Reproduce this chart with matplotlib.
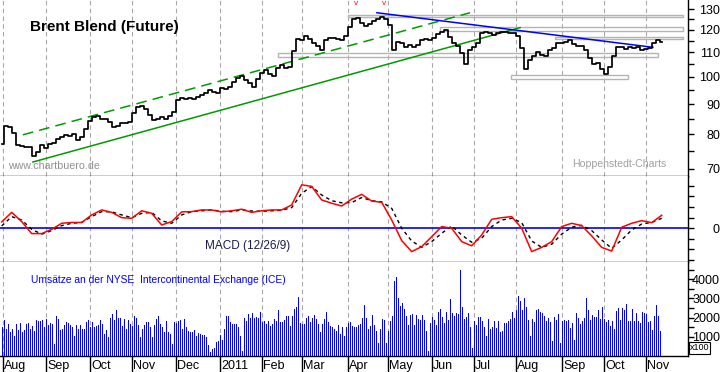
import numpy as np
import matplotlib
matplotlib.use("Agg")
import matplotlib.pyplot as plt
from matplotlib.patches import Rectangle
from matplotlib.ticker import NullFormatter

plt.rcParams['font.family'] = ['Liberation Sans', 'DejaVu Sans']

# ---- data ----
# Brent close, every 2nd trading day from end of July 2010
close = [77.2, 82.6, 82.2, 80.5, 76.7, 76.5, 76.2, 76.2, 73.5, 74.7,
         76.7, 75.9, 77.2, 77.4, 78.7, 79.2, 79.7, 79.5, 80.1, 78.4,
         79.2, 81.8, 84.4, 85.5, 86.1, 85.1, 85.1, 84.0, 82.4, 82.6,
         83.5, 83.5, 84.0, 86.8, 88.9, 89.3, 88.3, 86.2, 84.6, 85.1,
         85.5, 84.8, 85.9, 87.4, 91.4, 92.1, 91.7, 92.1, 91.7, 92.6,
         93.2, 94.1, 95.1, 94.4, 93.8, 95.7, 95.3, 96.0, 98.2, 99.5,
         100.4, 98.8, 97.6, 96.3, 99.1, 101.6, 102.7, 101.1, 100.4, 103.4,
         104.7, 103.6, 104.0, 110.7, 115.7, 115.4, 117.2, 115.7, 114.3, 112.8,
         111.0, 115.4, 116.2, 116.2, 116.0, 115.4, 117.2, 121.2, 125.0, 125.5,
         123.1, 121.8, 122.8, 124.4, 125.0, 126.0, 125.0, 122.3, 111.0, 114.7,
         114.0, 112.5, 113.0, 112.5, 113.2, 115.4, 116.0, 115.4, 116.3, 118.2,
         119.2, 120.0, 116.9, 114.0, 112.8, 109.6, 105.2, 111.0, 112.5, 114.0,
         118.8, 119.2, 118.5, 117.9, 118.8, 119.2, 119.0, 118.5, 118.5, 117.2,
         111.8, 103.0, 106.8, 108.5, 110.2, 108.9, 108.5, 111.0, 111.8, 114.3,
         114.0, 114.4, 115.4, 113.7, 112.8, 112.8, 111.0, 107.5, 105.1, 105.7,
         103.0, 101.0, 104.0, 108.5, 112.5, 112.2, 111.3, 112.2, 112.0, 112.5,
         111.0, 111.3, 112.0, 114.3, 115.4, 114.7]

# MACD (12/26/9) and signal, every 5th trading day
macd = [0.6, 1.5, 0.63, -0.5, -0.5, -0.1, 0.47, 0.55, 0.55, 1.26,
        1.73, 1.5, 1.0, 0.94, 1.65, 1.41, 0.31, 0.63, 1.55, 1.57,
        1.73, 1.73, 1.55, 1.65, 1.8, 1.5, 1.65, 1.73, 1.73, 2.2,
        4.1, 3.95, 2.67, 2.36, 2.1, 2.75,
        3.2, 2.57, 2.45, 0.78, -1.16, -2.2, -1.73, -0.79, 0.16, 0.0,
        -1.26, -1.65, -0.63, 0.85, 1.0, 1.1, 0.0, -2.2, -1.8, -1.26,
        0.16, 0.47, 0.25, -0.72, -1.8, -2.15, 0.1, 0.47, 0.72, 0.53, 1.23]
signal = [0.22, 1.1, 0.78, -0.1, -0.55, -0.22, 0.25, 0.47, 0.55, 1.1,
          1.57, 1.55, 1.26, 1.0, 1.41, 1.5, 0.7, 0.47, 1.26, 1.57,
          1.65, 1.73, 1.6, 1.57, 1.73, 1.63, 1.6, 1.65, 1.7, 1.95,
          3.3, 3.93, 3.14, 2.6, 2.4, 2.42,
          2.9, 2.6, 2.49, 1.88, 0.0, -1.2, -1.8, -1.26, -0.47, 0.22,
          -0.63, -1.32, -0.94, 0.16, 0.78, 0.94, 0.53, -1.2, -1.8, -1.5,
          -0.55, 0.1, 0.28, -0.22, -1.1, -1.89, -1.1, -0.16, 0.4, 0.55, 0.94]

# daily volume (axis in x100)
volume = [
    1510, 1895, 1425, 1685, 1250, 1425, 1020, 1685, 1335, 1720,
    1250, 1370, 1685, 1720, 1425, 1545, 1280, 1860, 1825, 1825,
    1860, 1510, 1930, 1600, 1720, 1685, 640, 2070, 1950, 1370,
    1425, 1600, 1773, 1720, 1600, 1510, 1020, 1600, 1425, 1630,
    1425, 1425, 1773, 1895, 1510, 1773, 1510, 1545, 1600, 1895,
    1685, 1160, 1335, 985, 2000, 2175, 1860, 2420, 2000, 2000,
    1545, 1950, 1425, 1895, 1685, 1545, 2070, 2000, 1600, 985,
    1425, 1600, 1773, 1773, 1510, 985, 1600, 1950, 2070, 1685,
    1510, 1250, 1825, 1250, 1160, 640, 1773, 1720, 1825, 1895,
    1425, 1950, 1510, 1300, 1250, 1250, 1335, 1020, 1195, 1125,
    1075, 1075, 985, 550, 200, 375, 430, 725, 775, 1075,
    850, 1425, 2070, 2070, 1773, 1685, 1685, 1650, 1510, 1020,
    250, 2000, 1825, 2175, 2000, 2245, 2000, 2035, 2000, 2297,
    1773, 1825, 1685, 1825, 1545, 1685, 1950, 1825, 2420, 1773,
    1773, 1895, 2070, 2070, 1545, 2070, 2471, 2557, 3050, 1720,
    1685, 1685, 2000, 2070, 1773, 2000, 2122, 1950, 1685, 1250,
    1685, 1950, 2297, 1773, 1545, 1510, 1425, 1300, 1600, 1125,
    1510, 1020, 1510, 1720, 1773, 1545, 1510, 1510, 1600, 1685,
    2000, 2650, 2000, 1400, 1550, 2150, 1600, 1300, 700, 1400,
    1950, 1900, 700, 1300, 1850, 2100, 3900, 4100, 3000, 2600,
    2750, 2450, 2100, 1600, 2150, 2200, 1600, 2150, 1950, 1900,
    2150, 1900, 1300, 250, 1700, 2050, 1900, 1600, 2300, 2450,
    2050, 1700, 2300, 1900, 2950, 2250, 2100, 2250, 2200, 4500,
    2550, 1950, 2050, 2250, 1500, 400, 1850, 1600, 2050, 2050,
    1800, 1500, 1050, 1950, 1400, 1500, 1800, 1450, 1800, 1250,
    1300, 1700, 1700, 1800, 1950, 2300, 2000, 2400, 3150, 2850,
    2400, 3000, 2550, 1900, 1050, 1950, 1750, 2400, 2450, 2300,
    2250, 2100, 1800, 2000, 1750, 800, 2050, 1900, 2200, 700,
    1850, 1900, 1800, 1900, 1450, 1700, 850, 2250, 2000, 1650,
    1800, 2000, 3000, 2400, 1900, 2150, 2050, 2050, 2400, 1950,
    2550, 1950, 1750, 1900, 1550, 1850, 1400, 2350, 2500, 1900,
    2500, 2400, 2700, 1850, 1850, 2450, 1800, 2250, 1800, 1700,
    2300, 2250, 2200, 1750, 1800, 1350, 2100, 2650, 2100, 1300]

# month starts in trading-day index
month_pos = [0.5, 22, 44, 65, 87, 109, 130, 150, 173, 193, 215, 236, 257, 280, 301, 322]
month_lbl = ['Aug', 'Sep', 'Oct', 'Nov', 'Dec', '2011', 'Feb', 'Mar', 'Apr',
             'May', 'Jun', 'Jul', 'Aug', 'Sep', 'Oct', 'Nov']

# trend lines (day, price)
chan_low_d, chan_low_p = [15.6, 259.2], [71.9, 121.1]
chan_up_d, chan_up_p = [10.6, 234.2], [79.9, 128.3]
resist_d, resist_p = [187.6, 325.6], [128.3, 112.2]
# support / resistance zones: day0, day1, price_lo, price_hi
zones = [(173.2, 340.7, 126.3, 127.3),
         (219.2, 340.7, 119.6, 121.2),
         (276.6, 340.7, 116.0, 116.9),
         (138.2, 328.2, 108.0, 109.6),
         (254.7, 313.2, 99.2, 100.8)]
top_marks = [177, 191]

# ---- layout ----
W, H = 723, 372
fig = plt.figure(figsize=(W / 100, H / 100), dpi=100)
R = 688 / W
ax_p = fig.add_axes([0, 1 - 176 / H, R, 176 / H])
ax_m = fig.add_axes([0, 1 - 262 / H, R, 86 / H])
ax_v = fig.add_axes([0, 1 - 356 / H, R, 94 / H])

for ax in (ax_p, ax_m, ax_v):
    ax.set_xlim(-0.85, 343.15)
    for s in ('top', 'left'):
        ax.spines[s].set_visible(False)
    for s in ('right', 'bottom'):
        ax.spines[s].set_color('black')
        ax.spines[s].set_linewidth(1.0)
    for m in month_pos:
        ax.axvline(m, color='#a8a8a8', lw=0.8, ls=(0, (4, 3)), zorder=0)
    ax.yaxis.tick_right()
    ax.tick_params(axis='y', which='both', direction='out', length=4, width=1,
                   colors='black', labelsize=9, pad=19)
    ax.set_facecolor('white')
for ax in (ax_p, ax_m):
    ax.set_xticks([])

# ---- price ----
days = np.arange(len(close)) * 2
ax_p.set_yscale('log')
ax_p.set_ylim(68.1, 134.8)
for d0, d1, lo, hi in zones:
    ax_p.add_patch(Rectangle((d0, lo), d1 - d0, hi - lo, fill=False,
                             ec='#b4b4b4', lw=1.0, zorder=1))
ax_p.plot(chan_low_d, chan_low_p, color='#009a00', lw=1.1, zorder=2)
ax_p.plot(chan_up_d, chan_up_p, color='#009a00', lw=1.1, ls=(0, (7, 4)), zorder=2)
ax_p.plot(resist_d, resist_p, color='#0000ff', lw=1.1, zorder=2)
ax_p.plot(days, close, color='black', lw=1.25, drawstyle='steps-mid', zorder=3)
for d in top_marks:
    ax_p.text(d, 133.0, 'v', color='red', fontsize=6, ha='center', va='center')
ax_p.set_yticks([70, 80, 90, 100, 110, 120, 130],
                labels=['70', '80', '90', '100', '110', '120', '130'])
ax_p.set_yticks([75, 85, 95, 105, 115, 125], minor=True)
ax_p.yaxis.set_minor_formatter(NullFormatter())
plt.setp(ax_p.get_yticklabels(), ha='right')

# ---- MACD ----
md = np.arange(len(macd)) * 5
ax_m.set_ylim(-3.18, 4.93)
ax_m.axhline(0, color='#0000ff', lw=1.2, zorder=1)
ax_m.plot(md, signal, color='black', lw=1.0, ls=(0, (2.5, 2.5)), zorder=2)
ax_m.plot(md, macd, color='#ff0000', lw=1.1, zorder=3)
ax_m.set_yticks([0], labels=['0'])
ax_m.set_yticks([-3, -2, -1, 1, 2, 3, 4], minor=True)
ax_m.yaxis.set_minor_formatter(NullFormatter())
plt.setp(ax_m.get_yticklabels(), ha='right')
ax_m.text(0.36, 0.19, 'MACD (12/26/9)', transform=ax_m.transAxes, fontsize=8.5,
          color='#1c1c50', ha='center', va='center')

# ---- volume ----
vd = np.arange(len(volume))
ax_v.set_ylim(0, 4900)
ax_v.vlines(vd, 0, volume, color='#0000ff', lw=0.5, antialiased=False, zorder=2)
ax_v.set_yticks([1000, 2000, 3000, 4000], labels=['1000', '2000', '3000', '4000'])
ax_v.set_yticks([500, 1500, 2500, 3500, 4500], minor=True)
ax_v.yaxis.set_minor_formatter(NullFormatter())
plt.setp(ax_v.get_yticklabels(), ha='right')
ax_v.set_xticks(month_pos, labels=[''] * len(month_pos))
ax_v.tick_params(axis='x', direction='out', length=12, width=1, colors='black')
for m, lbl in zip(month_pos, month_lbl):
    ax_v.text(m + 0.8, -0.045, lbl, transform=ax_v.get_xaxis_transform(),
              fontsize=9, ha='left', va='top', clip_on=False)
ax_v.text(0.045, 0.81, 'Umsätze an der NYSE  Intercontinental Exchange (ICE)',
          transform=ax_v.transAxes, fontsize=7.4, color='#0000ff',
          ha='left', va='center')

# ---- labels on the figure ----
fig.text(104 / W, 1 - 27 / H, 'Brent Blend (Future)', fontsize=11,
         fontweight='bold', ha='center', va='center')
fig.text(8 / W, 1 - 166 / H, 'www.chartbuero.de', fontsize=7.7,
         color='#909090', ha='left', va='center')
fig.text(572 / W, 1 - 164.5 / H, 'Hoppenstedt-Charts', fontsize=7.6,
         color='#a0a0a0', ha='left', va='center')
fig.text(699.5 / W, 1 - 348 / H, 'x100', fontsize=6.5, ha='center', va='center',
         bbox=dict(boxstyle='square,pad=0.12', fc='white', ec='black', lw=0.8))

fig.savefig('out.png', dpi=100)
